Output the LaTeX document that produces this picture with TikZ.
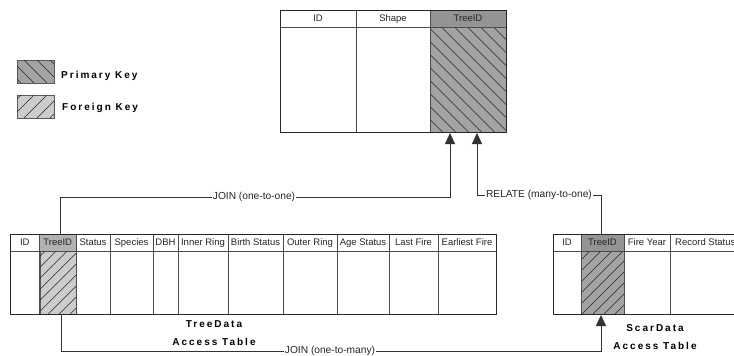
\documentclass[tikz,border=0pt]{standalone}
\usepackage{fontspec}
\setmainfont{Liberation Sans}
\newfontfamily\spaced[LetterSpace=20]{Liberation Sans}
\usetikzlibrary{arrows.meta}
\tikzset{
  x=1pt,y=-1pt,
  tbl/.style={draw=black!85,line width=1pt,fill=white,inner sep=0pt},
  coltext/.style={inner sep=0pt,text height=6.8pt,text depth=1.8pt,font=\fontsize{9.5}{11}\selectfont,text=black!85},
  title/.style={inner sep=0pt,text height=7.2pt,text depth=0pt,font=\spaced\bfseries\fontsize{10}{12}\selectfont,text=black},
  edgelabel/.style={fill=white,inner sep=1pt,font=\fontsize{10.2}{12}\selectfont,text=black!85},
  conn/.style={draw=black!80,line width=0.9pt},
  arrowtip/.style={-{Triangle[length=11pt,width=10pt]}},
  rule/.style={draw=black!70,line width=1pt},
}
% \hatchbox{name}{x1}{y1}{x2}{y2}{fill}{direction +1/-1}{step}
\newcommand{\hatchbox}[8]{%
  \node[fill=#6,draw=black!65,line width=0.8pt,inner sep=0pt,anchor=north west,minimum width={#4-#2},minimum height={#5-#3}] (#1) at (#2,#3) {};
  \begin{scope}
    \clip (#2,#3) rectangle (#4,#5);
    \foreach \k in {-20,...,20}{
      \pgfmathsetmacro{\xa}{(#2+#4)/2+\k*#8}
      \pgfmathsetmacro{\dd}{#7*(#5-#3)/2}
      \draw[black!85,line width=0.45pt] (\xa-\dd,#3) -- (\xa+\dd,#5);
    }
  \end{scope}
}
% \colhead{name}{x1}{x2}{y1}{y2}{text}
\newcommand{\colhead}[6]{%
  \node[coltext] (#1) at ({(#2+#3)/2},{(#4+#5)/2}) {#6};
}
\begin{document}
\begin{tikzpicture}
\useasboundingbox (0,0) rectangle (734,356);
\fill[white] (0,0) rectangle (734,356);

% legend
\hatchbox{pk}{17}{60}{54}{83}{black!36}{1}{13}
\hatchbox{fk}{17}{95}{54}{118}{black!20}{-1}{13}
\node[title,anchor=west] (pkt) at (61,75) {Primary Key};
\node[title,anchor=west] (fkt) at (62,107) {Foreign Key};

% top table
\node[tbl,anchor=north west,minimum width=226pt,minimum height=122pt] (top) at (280,10) {};
\fill[black!42] (430,10) rectangle (506,27);
\hatchbox{tophatch}{430}{27}{506}{132}{black!36}{1}{13}
\draw[rule] (280,27) -- (506,27);
\draw[rule] (356,10) -- (356,132);
\draw[rule] (430,10) -- (430,132);
\draw[tbl,fill=none] (280,10) rectangle (506,132);
\colhead{t1}{280}{356}{10}{27}{ID}
\colhead{t2}{356}{430}{10}{27}{Shape}
\colhead{t3}{430}{506}{10}{27}{TreeID}

% TreeData table
\node[tbl,anchor=north west,minimum width=486pt,minimum height=80pt] (tree) at (10,234) {};
\fill[black!30] (39.5,234) rectangle (76,251);
\hatchbox{treehatch}{39.5}{251}{76}{314}{black!20}{-1}{11}
\draw[rule] (10,251) -- (496,251);
\foreach \x in {39.5,76,110,153,178,228,283,337,389,438}
  \draw[rule] (\x,234) -- (\x,314);
\draw[tbl,fill=none] (10,234) rectangle (496,314);
\colhead{a1}{10}{39.5}{234}{251}{ID}
\colhead{a2}{39.5}{76}{234}{251}{TreeID}
\colhead{a3}{76}{110}{234}{251}{Status}
\colhead{a4}{110}{153}{234}{251}{Species}
\colhead{a5}{153}{178}{234}{251}{DBH}
\colhead{a6}{178}{228}{234}{251}{Inner Ring}
\colhead{a7}{228}{283}{234}{251}{Birth Status}
\colhead{a8}{283}{337}{234}{251}{Outer Ring}
\colhead{a9}{337}{389}{234}{251}{Age Status}
\colhead{a10}{389}{438}{234}{251}{Last Fire}
\colhead{a11}{438}{496}{234}{251}{Earliest Fire}

% ScarData table
\node[tbl,anchor=north west,minimum width=190pt,minimum height=80pt] (scar) at (553,234) {};
\fill[black!42] (581,234) rectangle (624,251);
\hatchbox{scarhatch}{581}{251}{624}{314}{black!36}{-1}{11}
\draw[rule] (553,251) -- (734,251);
\foreach \x in {581,624,670}
  \draw[rule] (\x,234) -- (\x,314);
\draw[tbl,fill=none] (553,234) rectangle (743,314);
\colhead{b1}{553}{581}{234}{251}{ID}
\colhead{b2}{581}{624}{234}{251}{TreeID}
\colhead{b3}{624}{670}{234}{251}{Fire Year}
\node[coltext,anchor=west] (b4) at (675,242.5) {Record Status};

% titles
\node[title] (tt1) at (214,324) {TreeData};
\node[title] (tt2) at (214,342) {Access Table};
\node[title] (st1) at (655,328) {ScarData};
\node[title] (st2) at (655,346) {Access Table};

% connector anchors
\coordinate (jointip) at (450,133);
\coordinate (reltip) at (477,133);
\coordinate (treetop) at (60,234);
\coordinate (scartop) at (601,234);
\coordinate (treebot) at (61,314);
\coordinate (scarbot) at (601,315);

% connectors
\draw[conn,arrowtip] (treetop) |- (450,197) -- (jointip);
\draw[conn,arrowtip] (scartop) |- (477,195) -- (reltip);
\draw[conn,arrowtip] (treebot) |- (601,351) -- (scarbot);

% labels
\node[edgelabel] (l1) at (254,197) {JOIN (one-to-one)};
\node[edgelabel] (l2) at (539,195) {RELATE (many-to-one)};
\node[edgelabel] (l3) at (330,351) {JOIN (one-to-many)};
\end{tikzpicture}
\end{document}
